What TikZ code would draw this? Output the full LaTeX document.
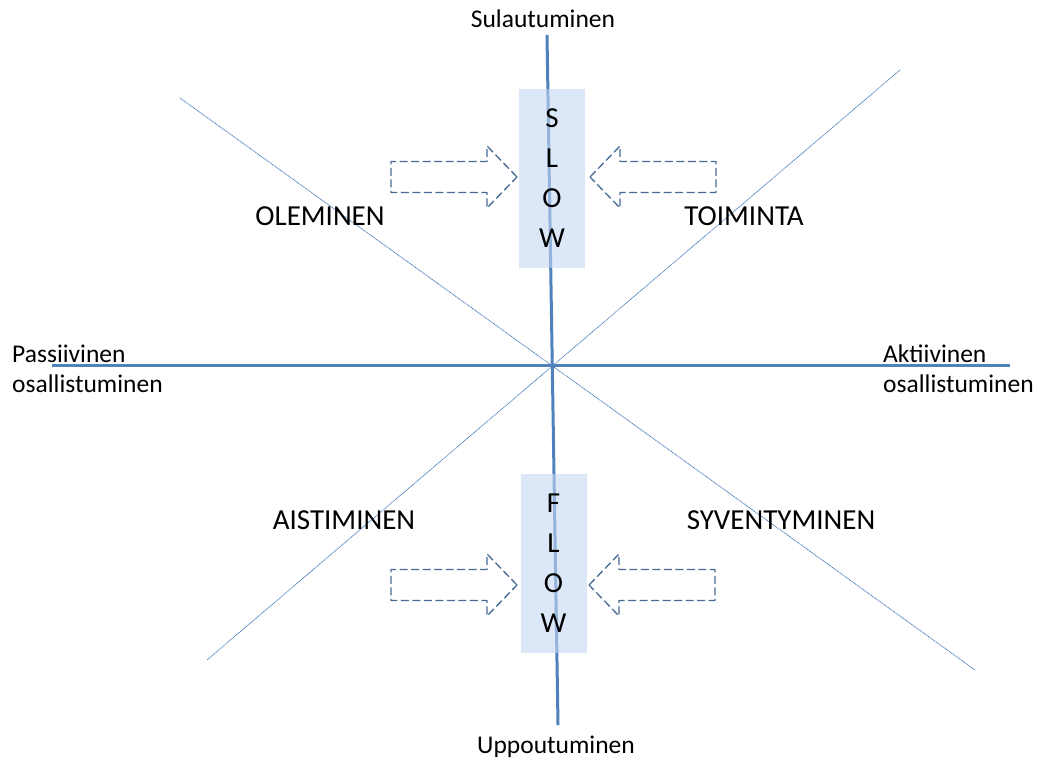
\documentclass[tikz,border=0pt]{standalone}
\usepackage{fontspec}
\setmainfont{Carlito}
\definecolor{axisblue}{RGB}{79,129,189}
\definecolor{arrowblue}{RGB}{74,106,150}
\definecolor{boxblue}{RGB}{196,215,242}
\begin{document}
\begin{tikzpicture}[x=1pt, y=-1pt, line join=round,
		axisline/.style={axisblue, line width=3pt},
		diagline/.style={axisblue, line width=0.8pt, dash pattern=on 1pt off 0.6pt},
		wordbox/.style={fill=boxblue, fill opacity=0.6, text opacity=1, minimum width=66pt, minimum height=179pt, inner sep=0pt, align=center, font=\fontsize{29}{40}\selectfont},
		sidelabel/.style={inner sep=0pt, align=left, anchor=west, font=\fontsize{25.5}{30}\selectfont},
		endlabel/.style={inner sep=0pt, font=\fontsize{25.5}{30}\selectfont},
		quadlabel/.style={inner sep=0pt, font=\fontsize{29}{35}\selectfont}]
	\useasboundingbox (0,0) rectangle (1040,762);
	% block arrow, tip at #1,#2, #3 = 1 points right, -1 points left
	\def\blockarrow#1#2#3{
		\begin{scope}[shift={(#1,#2)}, xscale=#3]
			\draw[arrowblue, line width=1.3pt, dash pattern=on 8pt off 3.5pt]
				(0,0) -- (-30,-31) -- (-30,-15.5) -- (-126,-15.5) -- (-126,15.5) -- (-30,15.5) -- (-30,31) -- cycle;
		\end{scope}
	}
	
	\coordinate (top) at (547,35);
	\coordinate (bottom) at (558,725);
	\coordinate (left) at (52,365);
	\coordinate (right) at (1010,365);
	\coordinate (nw) at (180,98);
	\coordinate (se) at (975,670);
	\coordinate (ne) at (900,70);
	\coordinate (sw) at (207,660);
	
	\draw[diagline] (nw) -- (se);
	\draw[diagline] (ne) -- (sw);
	\draw[axisline] (left) -- (right);
	\draw[axisline] (top) -- (bottom);
	
	\node[wordbox] (slow) at (552,178.5) {S\\L\\O\\W};
	\node[wordbox] (flow) at (553.5,563) {F\\L\\O\\W};
	
	\blockarrow{517}{177}{1}
	\blockarrow{590}{177}{-1}
	\blockarrow{517}{585}{1}
	\blockarrow{589}{585}{-1}
	
	\node[endlabel] (sulaut) at (543,19) {Sulautuminen};
	\node[endlabel] (uppout) at (556,747) {Uppoutuminen};
	\node[sidelabel] (passiiv) at (12,369) {Passiivinen\\osallistuminen};
	\node[sidelabel] (aktiiv) at (883,369) {Aktiivinen\\osallistuminen};
	
	\node[quadlabel] (olem) at (320,216) {OLEMINEN};
	\node[quadlabel] (toim) at (744,216) {TOIMINTA};
	\node[quadlabel] (aist) at (344,520) {AISTIMINEN};
	\node[quadlabel] (syvent) at (781,520) {SYVENTYMINEN};
\end{tikzpicture}
\end{document}
